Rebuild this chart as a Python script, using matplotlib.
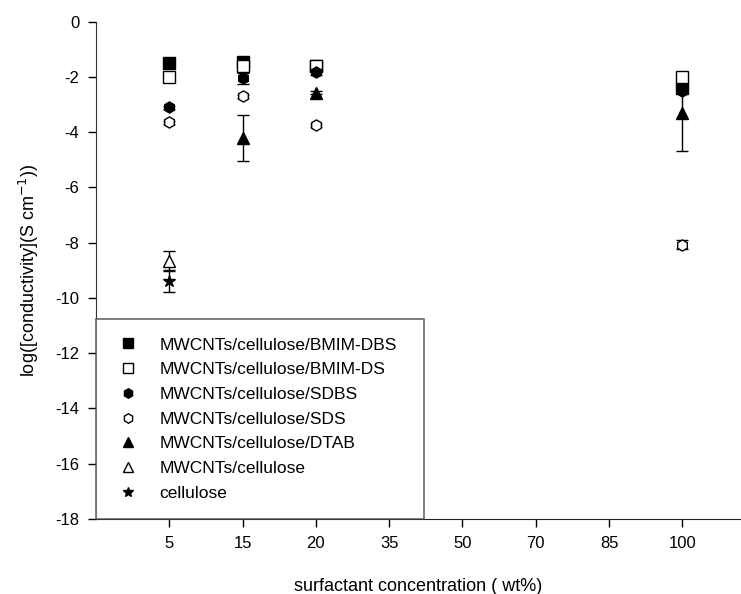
import numpy as np
import matplotlib
matplotlib.use("Agg")
import matplotlib.pyplot as plt
from matplotlib.lines import Line2D

plt.rcParams['font.family'] = ['Liberation Sans', 'DejaVu Sans']
plt.rcParams['axes.unicode_minus'] = False

# categorias del eje x (espaciado uniforme)
conc_labels = ['5', '15', '20', '35', '50', '70', '85', '100']

# valores log(conductividad)
bmim_dbs_x = ['5', '15', '20', '100']
bmim_dbs_y = [-1.5, -1.45, -1.62, -2.42]
bmim_dbs_err = [0.05, 0.08, 0.1, 0.12]

bmim_ds_x = ['5', '15', '20', '100']
bmim_ds_y = [-2.02, -1.6, -1.6, -2.02]
bmim_ds_err = [0.05, 0.15, 0.1, 0.1]

sdbs_x = ['5', '15', '20', '100']
sdbs_y = [-3.1, -2.05, -1.82, -2.5]
sdbs_err = [0.05, 0.2, 0.1, 0.1]

sds_x = ['5', '15', '20', '100']
sds_y = [-3.65, -2.7, -3.75, -8.07]
sds_err = [0.05, 0.05, 0.05, 0.17]

dtab_x = ['15', '20', '100']
dtab_y = [-4.2, -2.58, -3.32]
dtab_err = [0.83, 0.06, 1.35]

mwcnt_x = ['5']
mwcnt_y = [-8.65]
mwcnt_err = [0.36]

cell_x = ['5']
cell_y = [-9.4]
cell_err = [0.4]

series = [
    ('MWCNTs/cellulose/BMIM-DBS', bmim_dbs_x, bmim_dbs_y, bmim_dbs_err, 's', 'black'),
    ('MWCNTs/cellulose/BMIM-DS', bmim_ds_x, bmim_ds_y, bmim_ds_err, 's', 'white'),
    ('MWCNTs/cellulose/SDBS', sdbs_x, sdbs_y, sdbs_err, 'h', 'black'),
    ('MWCNTs/cellulose/SDS', sds_x, sds_y, sds_err, 'h', 'white'),
    ('MWCNTs/cellulose/DTAB', dtab_x, dtab_y, dtab_err, '^', 'black'),
    ('MWCNTs/cellulose', mwcnt_x, mwcnt_y, mwcnt_err, '^', 'white'),
    ('cellulose', cell_x, cell_y, cell_err, '*', 'black'),
]
tamanos = {'s': 8, 'h': 8, '^': 8.5, '*': 9}

fig = plt.figure(figsize=(7.41, 5.94), dpi=100)
ax = fig.add_axes([96 / 741, 1 - 519 / 594, 1 - 96 / 741, (519 - 21.5) / 594])

pos = {c: i + 1 for i, c in enumerate(conc_labels)}
handles = []
for nombre, xs, ys, errs, mk, fc in series:
    xp = [pos[c] for c in xs]
    ms = tamanos[mk]
    ax.errorbar(xp, ys, yerr=errs, fmt=mk, ms=ms, mfc=fc, mec='black', mew=1,
                ecolor='black', elinewidth=1, capsize=4.5, capthick=1)
    handles.append(Line2D([], [], ls='none', marker=mk, ms=ms * 0.85, mfc=fc,
                          mec='black', mew=1, label=nombre))

ax.set_xlim(0, 8.8)
ax.set_ylim(-18, 0)
ax.set_xticks(range(1, len(conc_labels) + 1))
ax.set_xticklabels(conc_labels)
ax.set_yticks(np.arange(-18, 1, 2))
ax.tick_params(axis='x', direction='out', length=6, width=1, labelsize=12, pad=6.5)
ax.tick_params(axis='y', direction='out', length=6, width=1, labelsize=12, pad=6)
ax.spines['top'].set_visible(False)
ax.spines['right'].set_visible(False)
ax.spines['left'].set_color('#333333')
ax.spines['bottom'].set_color('#222222')

ax.set_xlabel('surfactant concentration ( wt%)', fontsize=13, labelpad=19)
ax.set_ylabel('log([conductivity](S cm$^{-1}$))', fontsize=13, labelpad=10)

leg = fig.legend(handles=handles, loc='lower left',
                 bbox_to_anchor=(96 / 741, 1 - 519 / 594, 328 / 741, 200 / 594),
                 mode='expand', fontsize=12.5, frameon=True, fancybox=False,
                 edgecolor='#444444', handlelength=1.55, handletextpad=1.05,
                 labelspacing=0.55, borderpad=1.05, borderaxespad=0)
leg.get_frame().set_linewidth(1.2)

fig.savefig('out.png', dpi=100)
